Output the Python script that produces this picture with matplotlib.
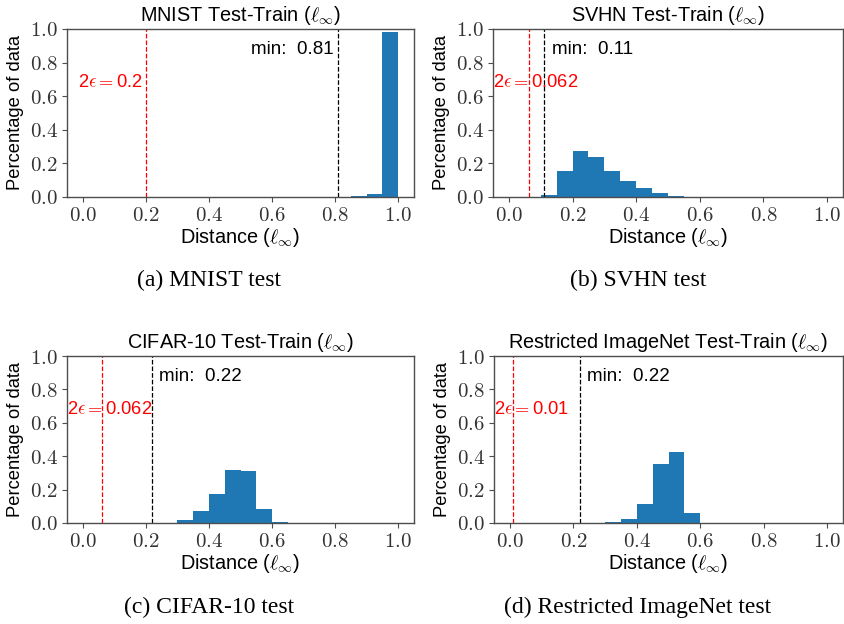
import numpy as np
import matplotlib
matplotlib.use("Agg")
import matplotlib.pyplot as plt
from matplotlib.ticker import FuncFormatter

plt.rcParams['font.family'] = ['Liberation Sans', 'DejaVu Sans']
plt.rcParams['mathtext.fontset'] = 'cm'

# histogram bins: 20 bins of width 0.05 on [0, 1]
bin_width = 0.05
bin_starts = np.arange(20) * bin_width

# fraction of test points per bin
mnist_hist = [0, 0, 0, 0, 0, 0, 0, 0, 0, 0,
              0, 0, 0, 0, 0, 0, 0, 0.004, 0.016, 0.984]
svhn_hist = [0, 0.001, 0.01, 0.153, 0.273, 0.239, 0.153, 0.094, 0.052, 0.024,
             0.006, 0.001, 0.001, 0, 0, 0, 0, 0, 0, 0]
cifar_hist = [0, 0, 0, 0, 0, 0, 0.016, 0.07, 0.174, 0.316,
              0.31, 0.084, 0.006, 0, 0, 0, 0, 0, 0, 0]
imagenet_hist = [0, 0, 0, 0, 0, 0, 0.006, 0.022, 0.114, 0.352,
                 0.424, 0.06, 0, 0, 0, 0, 0, 0, 0, 0]

titles = ['MNIST', 'SVHN', 'CIFAR-10', 'Restricted ImageNet']
captions = ['(a) MNIST test', '(b) SVHN test', '(c) CIFAR-10 test',
            '(d) Restricted ImageNet test']
eps2 = [0.2, 0.062, 0.062, 0.01]
eps2_labels = ['0.2', '0.062', '0.062', '0.01']
min_dist = [0.81, 0.11, 0.22, 0.22]
min_labels = ['0.81', '0.11', '0.22', '0.22']
hists = [mnist_hist, svhn_hist, cifar_hist, imagenet_hist]

W, H = 844, 624
fig = plt.figure(figsize=(W / 100, H / 100), dpi=100)

# axes boxes in pixels: left, top, right, bottom
boxes = [(67, 29, 414, 197), (493, 29, 843, 197),
         (67, 356, 414, 523), (494, 356, 843, 523)]
caption_pos = [(0.248, 0.551), (0.756, 0.551), (0.248, 0.027), (0.755, 0.027)]

# where the annotation texts go (x in data units, alignment)
eps_text = [(0.19, 'right'), (-0.05, 'left'), (-0.05, 'left'), (-0.05, 'left')]
min_text = [(0.795, 'right'), (0.134, 'left'), (0.242, 'left'), (0.244, 'left')]

spine_col = '#4d4d4d'

for i in range(4):
    l, t, r, b = boxes[i]
    ax = fig.add_axes([l / W, 1 - b / H, (r - l) / W, (b - t) / H])
    ax.bar(bin_starts, hists[i], width=bin_width, align='edge', color='#1f77b4')
    ax.axvline(eps2[i], color='red', ls='--', lw=0.9)
    ax.axvline(min_dist[i], color='black', ls='--', lw=0.9)
    ax.set_ylim(0, 1.0)
    ax.set_xlim(-0.05, 1.05)
    ax.set_xticks(np.arange(0, 1.01, 0.2))
    ax.set_yticks(np.arange(0, 1.01, 0.2))
    fmt = FuncFormatter(lambda v, p: '$%.1f$' % v)
    ax.xaxis.set_major_formatter(fmt)
    ax.yaxis.set_major_formatter(fmt)
    ax.tick_params(labelsize=15, colors=spine_col, labelcolor='#333333', pad=3)
    for s in ax.spines.values():
        s.set_color(spine_col)
        s.set_linewidth(1.0)

    ax.set_title(titles[i] + r' Test-Train ($\ell_\infty$)', fontsize=14.3)
    ax.set_xlabel(r'Distance ($\ell_\infty$)', fontsize=14.3, labelpad=1)
    ax.set_ylabel('Percentage of data', fontsize=13.2, labelpad=4)

    ex, eha = eps_text[i]
    ax.text(ex, 0.68, r'2$\epsilon=$' + eps2_labels[i], color='red',
            fontsize=13.2, ha=eha, va='center')
    mx, mha = min_text[i]
    ax.text(mx, 0.88, 'min:  ' + min_labels[i], color='black',
            fontsize=13.5, ha=mha, va='center')

    cx, cy = caption_pos[i]
    fig.text(cx, cy, captions[i], fontsize=17, family='Liberation Serif',
             ha='center', va='center')

fig.savefig('out.png', dpi=100)
